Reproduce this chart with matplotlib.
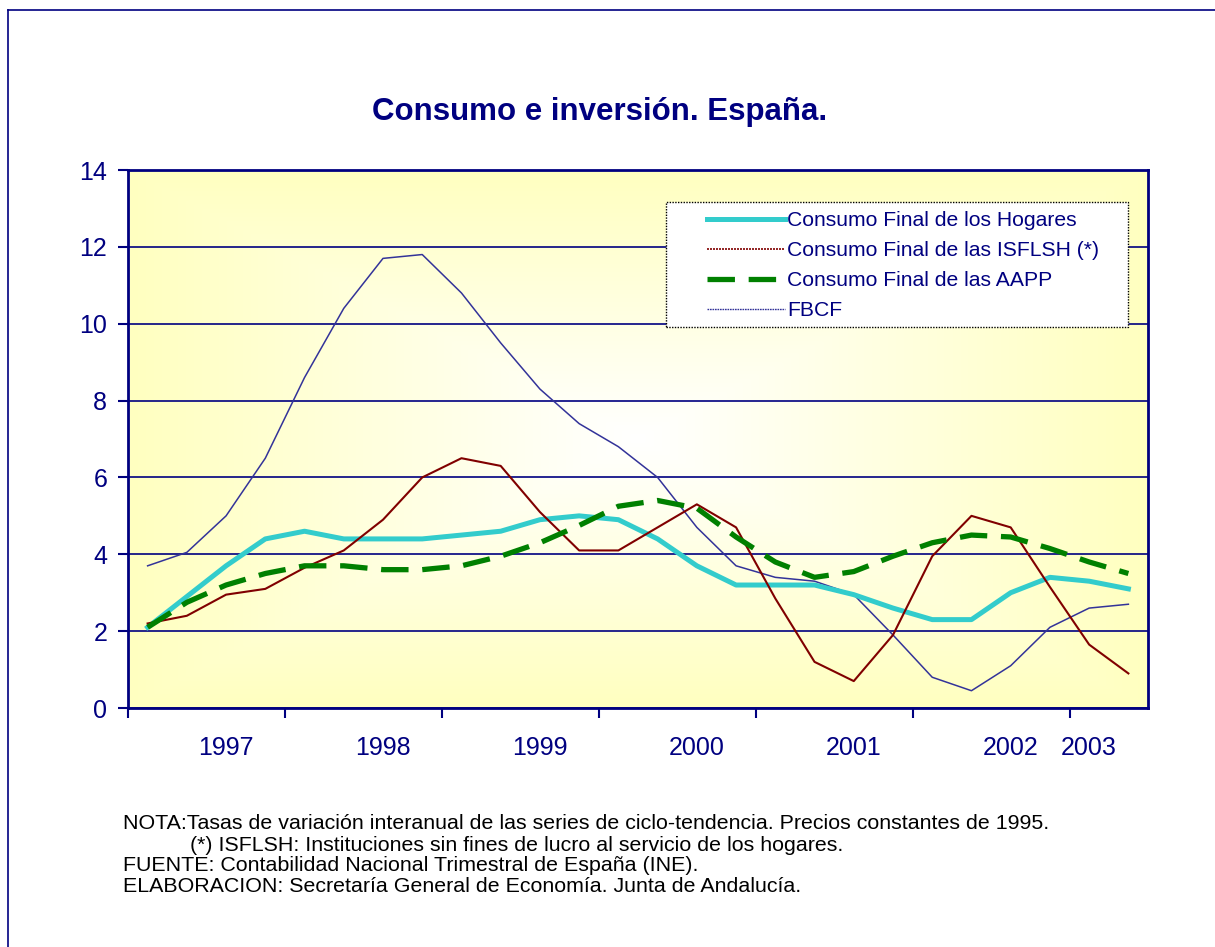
import matplotlib
matplotlib.use("Agg")
import matplotlib.pyplot as plt
import numpy as np
from matplotlib.lines import Line2D
from matplotlib.patches import Rectangle

plt.rcParams['font.family'] = ['Liberation Sans', 'DejaVu Sans']

# quarterly year-on-year rates, 26 quarters
hogares = [2.1, 2.9, 3.7, 4.4, 4.6, 4.4, 4.4, 4.4, 4.5, 4.6, 4.9, 5.0, 4.9,
           4.4, 3.7, 3.2, 3.2, 3.2, 2.95, 2.6, 2.3, 2.3, 3.0, 3.4, 3.3, 3.1]
isflsh = [2.2, 2.4, 2.95, 3.1, 3.65, 4.1, 4.9, 6.0, 6.5, 6.3, 5.1, 4.1, 4.1,
          4.7, 5.3, 4.7, 2.85, 1.2, 0.7, 1.9, 3.95, 5.0, 4.7, 3.15, 1.65, 0.9]
aapp = [2.1, 2.75, 3.2, 3.5, 3.7, 3.7, 3.6, 3.6, 3.7, 3.95, 4.3, 4.75, 5.25,
        5.4, 5.2, 4.45, 3.8, 3.4, 3.55, 3.95, 4.3, 4.5, 4.45, 4.15, 3.8, 3.5]
fbcf = [3.7, 4.05, 5.0, 6.5, 8.6, 10.4, 11.7, 11.8, 10.8, 9.5, 8.3, 7.4, 6.8,
        6.0, 4.7, 3.7, 3.4, 3.3, 2.95, 1.9, 0.8, 0.45, 1.1, 2.1, 2.6, 2.7]

series_names = ["Consumo Final de los Hogares", "Consumo Final de las ISFLSH (*)",
                "Consumo Final de las AAPP", "FBCF"]
year_labels = ["1997", "1998", "1999", "2000", "2001", "2002", "2003"]
year_label_pos = [2, 6, 10, 14, 18, 22, 24]

navy = "#000080"
x = np.arange(len(hogares))

fig = plt.figure(figsize=(12.15, 9.47), dpi=100)
ax = fig.add_axes([128 / 1215, 1 - 708 / 947, 1020 / 1215, 538 / 947])

# background gradient: white centre fading to light yellow at the edges
gx, gy = np.meshgrid(np.linspace(-1, 1, 300), np.linspace(-1, 1, 200))
t = np.clip(np.maximum(np.abs(gx), np.abs(gy)), 0, 1)
yellow = np.array([255, 255, 192]) / 255.0
white = np.array([1.0, 1.0, 1.0])
img = white[None, None, :] * (1 - t[..., None]) + yellow[None, None, :] * t[..., None]
ax.imshow(img, extent=[0, 1, 0, 1], transform=ax.transAxes, aspect='auto', zorder=0)

ax.set_xlim(-0.5, len(hogares) - 0.5)
ax.set_ylim(0, 14)
ax.set_yticks(range(0, 15, 2))
ax.grid(axis='y', color=navy, linewidth=1.2, zorder=1)

ax.plot(x, hogares, color="#33CCCC", lw=3.6, zorder=3)
ax.plot(x, isflsh, color="#800000", lw=1.5, zorder=4)
ax.plot(x, aapp, color="#008000", lw=3.8, dashes=(5.2, 2.6), dash_capstyle='butt', zorder=5)
ax.plot(x, fbcf, color="#333399", lw=1.1, zorder=2)

# major ticks at year boundaries, labels in between
ax.set_xticks(np.arange(-0.5, len(hogares) - 1, 4))
ax.set_xticklabels([])
ax.set_xticks(year_label_pos, minor=True)
ax.set_xticklabels(year_labels, minor=True)
ax.tick_params(axis='x', which='minor', length=0, pad=20, labelsize=18, labelcolor=navy)
ax.tick_params(axis='x', which='major', length=7, width=1.5, color=navy)
ax.tick_params(axis='y', length=7, width=1.5, color=navy, pad=8, labelsize=18, labelcolor=navy)

for s in ax.spines.values():
    s.set_color(navy)
    s.set_linewidth(2)

# legend box drawn by hand so it can be wider than its contents
box = Rectangle((666 / 1215, 1 - 327 / 947), 462 / 1215, 125 / 947, transform=fig.transFigure,
                facecolor='white', edgecolor='black', linewidth=1, linestyle=(0, (1, 1)), zorder=5)
fig.add_artist(box)
handles = [
    Line2D([], [], color="#33CCCC", lw=3.6),
    Line2D([], [], color="#800000", lw=1.2, linestyle=(0, (1.2, 0.6))),
    Line2D([], [], color="#008000", lw=3.8, dashes=(5.2, 2.6), dash_capstyle='butt'),
    Line2D([], [], color="#333399", lw=1.0, linestyle=(0, (1.2, 0.6))),
]
leg = fig.legend(handles, series_names, loc='upper left', bbox_to_anchor=(707 / 1215, 1 - 211 / 947),
                 fontsize=15.2, frameon=False, handlelength=3.7,
                 handletextpad=0.1, labelspacing=0.52, borderpad=0, borderaxespad=0)
leg.set_zorder(6)
for txt in leg.get_texts():
    txt.set_color(navy)

fig.text(600 / 1215, 1 - 112 / 947, "Consumo e inversión. España.", ha='center', va='center',
         fontsize=22.5, fontweight='bold', color=navy)

notes = [
    (123, 823, "NOTA:Tasas de variación interanual de las series de ciclo-tendencia. Precios constantes de 1995."),
    (190, 845, "(*) ISFLSH: Instituciones sin fines de lucro al servicio de los hogares."),
    (123, 865, "FUENTE: Contabilidad Nacional Trimestral de España (INE)."),
    (123, 886, "ELABORACION: Secretaría General de Economía. Junta de Andalucía."),
]
for nx, ny, s in notes:
    fig.text(nx / 1215, 1 - ny / 947, s, ha='left', va='center', fontsize=15.4, color='black')

# outer frame of the chart object
fig.add_artist(Line2D([8 / 1215, 8 / 1215], [0, 1 - 10 / 947], color=navy, lw=1.2))
fig.add_artist(Line2D([8 / 1215, 1], [1 - 10 / 947, 1 - 10 / 947], color=navy, lw=1.2))

fig.savefig("out.png", dpi=100)
